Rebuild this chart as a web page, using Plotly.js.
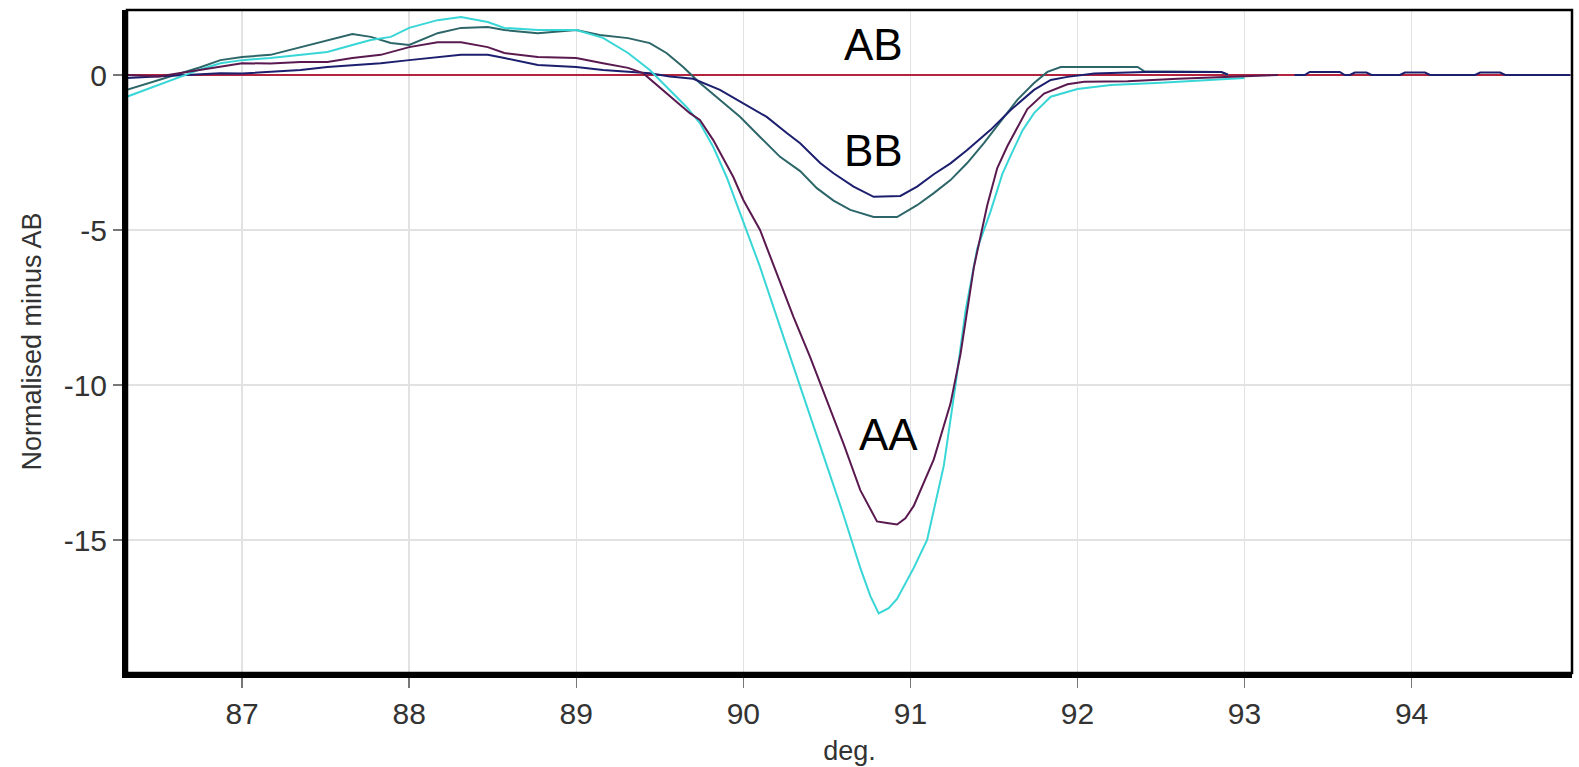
<!DOCTYPE html>
<html>
<head>
<meta charset="utf-8">
<script src="https://cdn.plot.ly/plotly-3.0.1.min.js"></script>
<style>html,body{margin:0;padding:0;background:#fff;}#chart{width:1579px;height:767px;}</style>
</head>
<body>
<div id="chart"></div>
<script>
// ---- data (deg. vs Normalised minus AB) ----
const abX = [86.31, 94.95];
const abY = [0, 0];

const aa1X = [86.31, 86.45, 86.6, 86.75, 86.87, 87.0, 87.17, 87.35, 87.51, 87.66, 87.77, 87.89, 88.0, 88.17, 88.31, 88.47, 88.57, 88.77, 89.0, 89.16, 89.31, 89.44, 89.54, 89.66, 89.74, 89.82, 89.9, 89.98, 90.1, 90.2, 90.3, 90.4, 90.5, 90.6, 90.7, 90.76, 90.81, 90.87, 90.92, 91.02, 91.1, 91.2, 91.27, 91.33, 91.4, 91.48, 91.55, 91.6, 91.67, 91.74, 91.84, 92.0, 92.2, 92.5, 92.8, 93.0];
const aa1Y = [-0.7, -0.42, -0.12, 0.18, 0.38, 0.48, 0.55, 0.65, 0.74, 0.97, 1.13, 1.23, 1.52, 1.77, 1.87, 1.71, 1.52, 1.45, 1.45, 1.2, 0.71, 0.16, -0.39, -1.03, -1.55, -2.32, -3.29, -4.45, -6.19, -7.8, -9.42, -11.0, -12.6, -14.2, -15.9, -16.8, -17.37, -17.2, -16.9, -15.9, -15.0, -12.6, -10.0, -7.6, -5.6, -4.4, -3.2, -2.6, -1.8, -1.23, -0.7, -0.45, -0.32, -0.25, -0.15, -0.1];

const aa2X = [86.31, 86.5, 86.65, 86.87, 87.0, 87.17, 87.35, 87.51, 87.66, 87.83, 88.0, 88.17, 88.31, 88.47, 88.57, 88.77, 89.0, 89.16, 89.31, 89.4, 89.54, 89.68, 89.74, 89.82, 89.94, 90.0, 90.1, 90.2, 90.3, 90.4, 90.5, 90.6, 90.7, 90.8, 90.86, 90.92, 90.97, 91.02, 91.14, 91.24, 91.3, 91.38, 91.46, 91.52, 91.58, 91.7, 91.8, 91.94, 92.04, 92.3, 92.6, 92.9, 93.2];
const aa2Y = [0.0, -0.05, 0.08, 0.27, 0.38, 0.37, 0.42, 0.42, 0.55, 0.65, 0.9, 1.06, 1.06, 0.9, 0.71, 0.58, 0.55, 0.38, 0.23, 0.06, -0.58, -1.23, -1.45, -2.1, -3.29, -4.03, -5.0, -6.4, -7.8, -9.1, -10.48, -11.9, -13.39, -14.4, -14.45, -14.5, -14.3, -13.9, -12.4, -10.6, -9.0, -6.2, -4.2, -3.0, -2.3, -1.1, -0.6, -0.3, -0.22, -0.2, -0.12, -0.05, 0.0];

const bb1X = [86.31, 86.5, 86.65, 86.87, 87.0, 87.17, 87.35, 87.51, 87.66, 87.83, 88.0, 88.17, 88.31, 88.47, 88.57, 88.77, 89.0, 89.16, 89.31, 89.44, 89.56, 89.7, 89.86, 89.98, 90.14, 90.26, 90.34, 90.46, 90.54, 90.66, 90.78, 90.94, 91.04, 91.14, 91.24, 91.34, 91.48, 91.6, 91.74, 91.84, 91.94, 92.1, 92.4, 92.86, 92.9, 93.1, 93.3, 93.36, 93.39, 93.57, 93.6, 93.63, 93.66, 93.73, 93.76, 93.93, 93.96, 94.08, 94.11, 94.38, 94.41, 94.53, 94.56, 94.95];
const bb1Y = [-0.1, -0.05, 0.0, 0.06, 0.05, 0.1, 0.16, 0.26, 0.32, 0.38, 0.48, 0.58, 0.65, 0.65, 0.55, 0.32, 0.26, 0.16, 0.1, 0.06, -0.05, -0.12, -0.48, -0.85, -1.35, -1.87, -2.2, -2.84, -3.17, -3.6, -3.93, -3.9, -3.6, -3.2, -2.85, -2.42, -1.77, -1.13, -0.48, -0.16, -0.06, 0.05, 0.1, 0.1, 0.02, null, 0.0, 0.0, 0.1, 0.1, 0.0, 0.0, 0.08, 0.08, 0.0, 0.0, 0.08, 0.08, 0.0, 0.0, 0.08, 0.08, 0.0, 0.0];

const bb2X = [86.31, 86.45, 86.6, 86.75, 86.87, 87.0, 87.17, 87.35, 87.51, 87.66, 87.77, 87.89, 88.0, 88.17, 88.31, 88.47, 88.57, 88.77, 89.0, 89.14, 89.31, 89.44, 89.54, 89.64, 89.74, 89.86, 89.98, 90.1, 90.22, 90.34, 90.44, 90.54, 90.64, 90.78, 90.92, 91.04, 91.14, 91.24, 91.34, 91.44, 91.54, 91.64, 91.74, 91.82, 91.9, 92.36, 92.4, 92.86, 92.9];
const bb2Y = [-0.48, -0.25, 0.0, 0.25, 0.48, 0.58, 0.65, 0.9, 1.13, 1.32, 1.23, 1.03, 0.97, 1.35, 1.52, 1.55, 1.45, 1.35, 1.45, 1.29, 1.19, 1.03, 0.71, 0.26, -0.26, -0.8, -1.35, -2.0, -2.64, -3.1, -3.65, -4.05, -4.35, -4.58, -4.58, -4.2, -3.81, -3.39, -2.84, -2.2, -1.5, -0.8, -0.26, 0.1, 0.26, 0.26, 0.12, 0.1, 0.0];

const xTickVals = [87, 88, 89, 90, 91, 92, 93, 94];
const yTickVals = [0, -5, -10, -15];
const yTickText = ['0', '-5', '-10', '-15'];

const labelText = ['AB', 'BB', 'AA'];
const labelX = [90.78, 90.78, 90.87];
const labelY = [1.0, -2.45, -11.6];

// ---- figure ----
const lineW = 2;
const traces = [
  {x: abX, y: abY, mode: 'lines', line: {color: '#b3243f', width: lineW}, name: 'AB'},
  {x: bb2X, y: bb2Y, mode: 'lines', line: {color: '#2d6668', width: lineW}, name: 'BB 2'},
  {x: bb1X, y: bb1Y, mode: 'lines', line: {color: '#1c1f6e', width: lineW}, name: 'BB 1'},
  {x: aa1X, y: aa1Y, mode: 'lines', line: {color: '#38d6d6', width: lineW}, name: 'AA 1'},
  {x: aa2X, y: aa2Y, mode: 'lines', line: {color: '#5a1a50', width: lineW}, name: 'AA 2'}
];

const annotations = labelText.map((t, i) => ({
  x: labelX[i], y: labelY[i], xref: 'x', yref: 'y', text: t, showarrow: false,
  font: {family: 'Liberation Sans, Arial, sans-serif', size: 44, color: '#000'}
}));

const tickFont = {family: 'Liberation Sans, Arial, sans-serif', size: 30, color: '#333'};

const layout = {
  width: 1579, height: 767,
  margin: {l: 127, r: 7, t: 10, b: 94, pad: 0},
  paper_bgcolor: '#fff', plot_bgcolor: '#fff',
  showlegend: false,
  xaxis: {
    range: [86.311, 94.96], tickvals: xTickVals, ticks: 'outside', ticklen: 10, tickwidth: 1.5, tickcolor: '#777',
    showline: true, linecolor: '#000', linewidth: 5, showgrid: true, gridcolor: '#e2e2e2', gridwidth: 1.5,
    zeroline: false, tickfont: tickFont,
    title: {text: 'deg.', font: {family: 'Liberation Sans, Arial, sans-serif', size: 27, color: '#333'}, standoff: 14}
  },
  yaxis: {
    range: [-19.29, 2.097], tickvals: yTickVals, ticktext: yTickText, ticks: 'outside', ticklen: 9, tickwidth: 1.5, tickcolor: '#777',
    showline: true, linecolor: '#000', linewidth: 5, showgrid: true, gridcolor: '#e2e2e2', gridwidth: 1.5,
    zeroline: false, tickfont: tickFont,
    title: {text: 'Normalised minus AB', font: {family: 'Liberation Sans, Arial, sans-serif', size: 27, color: '#333'}, standoff: 16}
  },
  shapes: [{type: 'rect', xref: 'paper', yref: 'paper', x0: 0, x1: 1, y0: 0, y1: 1, line: {color: '#000', width: 2.5}, layer: 'above'}],
  annotations: annotations
};

Plotly.newPlot('chart', traces, layout, {displayModeBar: false, staticPlot: true});
</script>
</body>
</html>
